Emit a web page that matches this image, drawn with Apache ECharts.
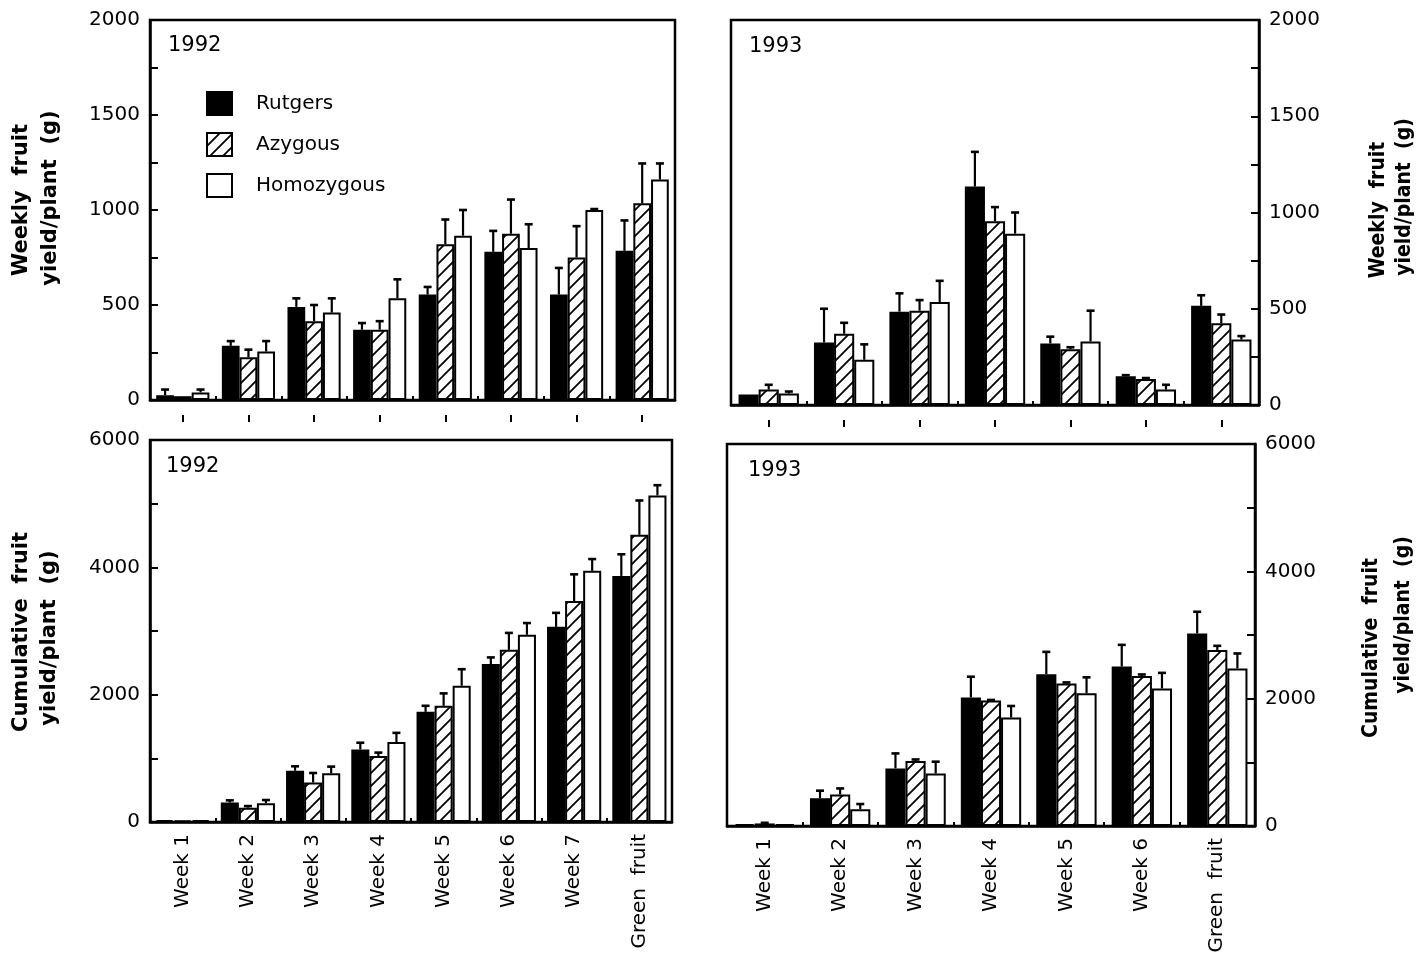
<!DOCTYPE html>
<html><head><meta charset="utf-8">
<script src="https://cdn.jsdelivr.net/npm/echarts@6/dist/echarts.min.js"></script>
<style>html,body{margin:0;padding:0;background:#fff}#c{width:1422px;height:961px}</style>
</head><body><div id="c"></div>
<script>
// ---------- data ----------
const cats1992 = ['Week 1','Week 2','Week 3','Week 4','Week 5','Week 6','Week 7','Green  fruit'];
const cats1993 = ['Week 1','Week 2','Week 3','Week 4','Week 5','Week 6','Green  fruit'];
const seriesNames = ['Rutgers','Azygous','Homozygous'];

// Weekly fruit yield/plant (g), 1992
const weekly1992Rutgers       = [25, 285, 490, 370, 555, 780, 555, 785];
const weekly1992RutgersErr    = [30, 25, 45, 35, 40, 110, 140, 160];
const weekly1992Azygous       = [20, 225, 415, 370, 820, 875, 750, 1035];
const weekly1992AzygousErr    = [0, 40, 85, 45, 130, 180, 165, 210];
const weekly1992Homozygous    = [40, 255, 460, 535, 865, 800, 1000, 1160];
const weekly1992HomozygousErr = [15, 55, 75, 100, 135, 125, 5, 85];

// Weekly fruit yield/plant (g), 1993
const weekly1993Rutgers       = [55, 325, 485, 1135, 320, 150, 515];
const weekly1993RutgersErr    = [0, 175, 95, 180, 35, 5, 55];
const weekly1993Azygous       = [80, 370, 490, 955, 290, 135, 425];
const weekly1993AzygousErr    = [25, 57, 55, 73, 10, 5, 45];
const weekly1993Homozygous    = [60, 235, 535, 890, 330, 80, 340];
const weekly1993HomozygousErr = [10, 80, 110, 110, 160, 25, 18];

// Cumulative fruit yield/plant (g), 1992
const cum1992Rutgers       = [30, 305, 805, 1140, 1730, 2480, 3065, 3865];
const cum1992RutgersErr    = [0, 35, 70, 105, 95, 105, 220, 340];
const cum1992Azygous       = [25, 225, 620, 1035, 1825, 2705, 3470, 4510];
const cum1992AzygousErr    = [0, 25, 150, 55, 195, 265, 420, 540];
const cum1992Homozygous    = [30, 295, 765, 1255, 2140, 2940, 3945, 5130];
const cum1992HomozygousErr = [0, 50, 105, 145, 260, 185, 185, 160];

// Cumulative fruit yield/plant (g), 1993
const cum1993Rutgers       = [30, 435, 905, 2020, 2385, 2505, 3025];
const cum1993RutgersErr    = [0, 120, 235, 325, 350, 340, 340];
const cum1993Azygous       = [40, 495, 1020, 1970, 2240, 2355, 2765];
const cum1993AzygousErr    = [10, 95, 25, 10, 15, 25, 65];
const cum1993Homozygous    = [30, 265, 825, 1705, 2085, 2160, 2475];
const cum1993HomozygousErr = [0, 80, 185, 180, 250, 245, 235];

const weeklyTicks = [0, 500, 1000, 1500, 2000];
const cumTicks = [0, 2000, 4000, 6000];

// ---------- styling ----------
const FONT = 'DejaVu Sans';
const hc = document.createElement('canvas'); hc.width = 13; hc.height = 13;
const hctx = hc.getContext('2d');
hctx.fillStyle = '#fff'; hctx.fillRect(0, 0, 13, 13);
hctx.strokeStyle = '#000'; hctx.lineWidth = 1.8; hctx.beginPath();
hctx.moveTo(0, 13); hctx.lineTo(13, 0);
hctx.moveTo(-2, 2); hctx.lineTo(2, -2);
hctx.moveTo(11, 15); hctx.lineTo(15, 11);
hctx.stroke();
const hatch = { image: hc, repeat: 'repeat' };

const barStyles = [
  { color: '#000', borderColor: '#000', borderWidth: 2 },
  { color: hatch, borderColor: '#000', borderWidth: 2 },
  { color: '#fff', borderColor: '#000', borderWidth: 2 }
];

const panels = [
  { grid: { left: 150, top: 20, width: 525, height: 380 }, cats: cats1992, gap: 0.19, ypos: 'left', max: 2000, interval: 250, ticks: weeklyTicks, labels: false,
    vals: [weekly1992Rutgers, weekly1992Azygous, weekly1992Homozygous], errs: [weekly1992RutgersErr, weekly1992AzygousErr, weekly1992HomozygousErr] },
  { grid: { left: 731, top: 20, width: 528, height: 385 }, cats: cats1993, gap: 0.20, ypos: 'right', max: 2000, interval: 250, ticks: weeklyTicks, labels: false,
    vals: [weekly1993Rutgers, weekly1993Azygous, weekly1993Homozygous], errs: [weekly1993RutgersErr, weekly1993AzygousErr, weekly1993HomozygousErr] },
  { grid: { left: 150, top: 440, width: 522, height: 382 }, cats: cats1992, gap: 0.17, ypos: 'left', max: 6000, interval: 1000, ticks: cumTicks, labels: true,
    vals: [cum1992Rutgers, cum1992Azygous, cum1992Homozygous], errs: [cum1992RutgersErr, cum1992AzygousErr, cum1992HomozygousErr] },
  { grid: { left: 727, top: 444, width: 528, height: 382 }, cats: cats1993, gap: 0.20, ypos: 'right', max: 6000, interval: 1000, ticks: cumTicks, labels: true,
    vals: [cum1993Rutgers, cum1993Azygous, cum1993Homozygous], errs: [cum1993RutgersErr, cum1993AzygousErr, cum1993HomozygousErr] }
];

function makeErrRender(gapFrac) {
  return function (params, api) {
    const c = api.value(0), v = api.value(1), hi = api.value(2), s = api.value(3);
    if (hi <= v) return null;
    const band = api.size([1, 0])[0];
    const groupW = band * (1 - gapFrac);
    const bw = groupW / 3;
    const base = api.coord([c, v]);
    const x = base[0] - groupW / 2 + bw * (s + 0.5);
    const top = api.coord([c, hi])[1];
    return { type: 'group', children: [
      { type: 'line', shape: { x1: x, y1: base[1], x2: x, y2: top }, style: { stroke: '#000', lineWidth: 2.2 } },
      { type: 'line', shape: { x1: x - 4, y1: top, x2: x + 4, y2: top }, style: { stroke: '#000', lineWidth: 2.6 } }
    ] };
  };
}

const grids = [], xAxes = [], yAxes = [], series = [];
panels.forEach((p, g) => {
  grids.push(Object.assign({ show: true, borderColor: '#000', borderWidth: 2.5, backgroundColor: 'transparent' }, p.grid));
  xAxes.push({
    type: 'category', gridIndex: g, data: p.cats, position: 'bottom',
    axisLine: { show: true, lineStyle: { color: '#000', width: 2.5 } },
    axisTick: { show: true, inside: true, length: 4, interval: 0, lineStyle: { color: '#000', width: 2 } },
    axisLabel: { show: p.labels, rotate: 90, fontSize: 20, color: '#000', fontFamily: FONT, margin: 12, interval: 0 },
    splitLine: { show: false }
  });
  yAxes.push({
    type: 'value', gridIndex: g, min: 0, max: p.max, interval: p.interval, position: p.ypos,
    axisLine: { show: true, lineStyle: { color: '#000', width: 2.5 } },
    axisTick: { show: true, inside: true, length: 8, lineStyle: { color: '#000', width: 2 } },
    axisLabel: { show: true, color: '#000', fontSize: 20, fontFamily: FONT, margin: 10,
      formatter: v => (p.ticks.indexOf(v) >= 0 ? String(v) : '') },
    splitLine: { show: false }
  });
  p.vals.forEach((arr, s) => {
    series.push({
      type: 'bar', name: seriesNames[s], xAxisIndex: g, yAxisIndex: g, data: arr,
      barGap: '0%', barCategoryGap: (p.gap * 100) + '%',
      itemStyle: barStyles[s], emphasis: { disabled: true }, z: 2
    });
  });
  const errData = [];
  p.vals.forEach((arr, s) => arr.forEach((v, c) => errData.push([c, v, v + p.errs[s][c], s])));
  series.push({
    type: 'custom', name: 'err' + g, xAxisIndex: g, yAxisIndex: g, data: errData,
    encode: { x: 0, y: [1, 2] }, renderItem: makeErrRender(p.gap), z: 3, silent: true
  });
});
// detached centre ticks below the top panels
[0, 1].forEach(g => {
  xAxes.push({
    type: 'category', gridIndex: g, data: panels[g].cats, position: 'bottom', offset: 15,
    axisLine: { show: false },
    axisTick: { show: true, alignWithLabel: true, interval: 0, length: 7, lineStyle: { color: '#000', width: 2 } },
    axisLabel: { show: false, interval: 0 }, splitLine: { show: false }
  });
});

const nameStyle = (t, cond) => ({ text: t, fontSize: 21, fontWeight: 'bold', fontFamily: cond ? 'DejaVu Sans Condensed, DejaVu Sans' : FONT, fill: '#000', align: 'center', verticalAlign: 'middle' });
const R = Math.PI / 2;

const option = {
  animation: false,
  backgroundColor: '#fff',
  grid: grids, xAxis: xAxes, yAxis: yAxes, series: series,
  legend: {
    orient: 'vertical', left: 206, top: 91, itemWidth: 25, itemHeight: 23, itemGap: 16, padding: 0,
    icon: 'rect', selectedMode: false,
    textStyle: { fontSize: 20, fontFamily: FONT, color: '#000', padding: [0, 0, 0, 19] },
    data: seriesNames.map((n, i) => ({ name: n, itemStyle: barStyles[i] }))
  },
  graphic: [
    { type: 'text', left: 168, top: 35, style: { text: '1992', fontSize: 21, fontFamily: FONT, fill: '#000' } },
    { type: 'text', left: 749, top: 36, style: { text: '1993', fontSize: 21, fontFamily: FONT, fill: '#000' } },
    { type: 'text', left: 166, top: 456, style: { text: '1992', fontSize: 21, fontFamily: FONT, fill: '#000' } },
    { type: 'text', left: 748, top: 460, style: { text: '1993', fontSize: 21, fontFamily: FONT, fill: '#000' } },
    { type: 'text', x: 22, y: 200, rotation: R, style: nameStyle('Weekly  fruit', false) },
    { type: 'text', x: 51, y: 198, rotation: R, style: nameStyle('yield/plant  (g)', false) },
    { type: 'text', x: 22, y: 632, rotation: R, style: nameStyle('Cumulative  fruit', false) },
    { type: 'text', x: 50, y: 638, rotation: R, style: nameStyle('yield/plant  (g)', false) },
    { type: 'text', x: 1379, y: 210, rotation: R, style: nameStyle('Weekly  fruit', true) },
    { type: 'text', x: 1405, y: 197, rotation: R, style: nameStyle('yield/plant  (g)', true) },
    { type: 'text', x: 1372, y: 648, rotation: R, style: nameStyle('Cumulative  fruit', true) },
    { type: 'text', x: 1404, y: 615, rotation: R, style: nameStyle('yield/plant  (g)', true) }
  ]
};

const chart = echarts.init(document.getElementById('c'), null, { renderer: 'canvas' });
chart.setOption(option);
</script>
</body></html>
